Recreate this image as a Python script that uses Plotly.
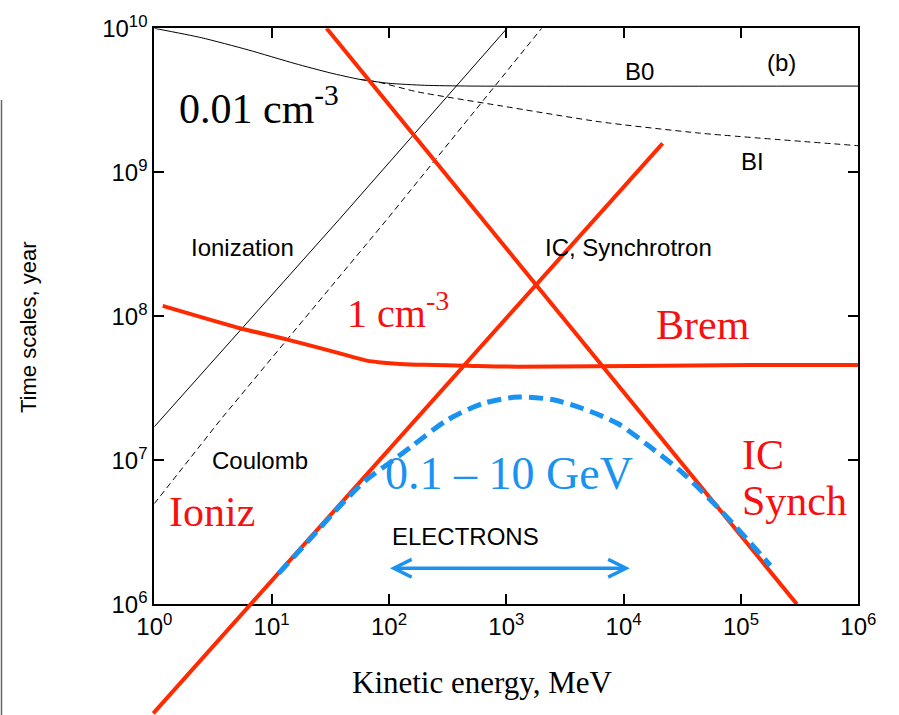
import math
import plotly.graph_objects as go

W, H = 899, 715

# ---------------- data (energies in MeV, times in years) ----------------
b0_energy = [1, 2.51, 6.31, 15.8, 31.6, 56.2, 100, 200, 500, 1e6]
b0_time = [1.0e10, 8.61e9, 7.08e9, 5.69e9, 4.90e9, 4.42e9, 4.15e9, 4.02e9, 3.97e9, 3.97e9]

bi_energy = [56.2, 80, 172, 885, 6310, 44700, 1e6]
bi_time = [4.42e9, 4.24e9, 3.63e9, 2.90e9, 2.24e9, 1.87e9, 1.53e9]

ion_energy = [1, 37.6, 1015]
ion_time = [1.71e7, 4.7e8, 1.0e10]

coul_energy = [1, 3.7, 96, 880, 2000]
coul_time = [5.0e6, 1.93e7, 4.7e8, 4.4e9, 1.0e10]

ic_energy = [29.4, 3.0e5]
ic_time = [1.0e10, 1.0e6]

ioniz1_energy = [0.98, 430, 21500]
ioniz1_time = [1.75e5, 4.47e7, 1.59e9]

brem_energy = [1.18, 5.37, 13.4, 33.6, 64.6, 85, 124, 200, 459, 1230, 119000, 1e6]
brem_time = [1.18e8, 8.26e7, 6.92e7, 5.68e7, 4.92e7, 4.78e7, 4.67e7, 4.6e7, 4.54e7, 4.47e7, 4.59e7, 4.59e7]

total_energy = [11.5, 20, 40, 63, 100, 158, 316, 631, 1260, 2510, 4470, 8900,
                16800, 31600, 63100, 100000, 178000]
total_time = [1.64e6, 2.69e6, 5.01e6, 7.24e6, 9.55e6, 1.26e7, 1.91e7, 2.48e7, 2.75e7,
              2.63e7, 2.29e7, 1.80e7, 1.24e7, 8.22e6, 4.73e6, 3.16e6, 1.86e6]

arrow_energy = [99, 11300]
arrow_time = 1.78e6

x_tickvals = [1, 10, 100, 1e3, 1e4, 1e5, 1e6]
x_ticktext = ["10<sup>0</sup>", "10<sup>1</sup>", "10<sup>2</sup>", "10<sup>3</sup>",
              "10<sup>4</sup>", "10<sup>5</sup>", "10<sup>6</sup>"]
y_tickvals = [1e6, 1e7, 1e8, 1e9, 1e10]
y_ticktext = ["10<sup>6</sup>", "10<sup>7</sup>", "10<sup>8</sup>", "10<sup>9</sup>", "10<sup>10</sup>"]

# ---------------- styles ----------------
RED = "#ff2a00"
RED_TXT = "#f71010"
BLUE = "#1a92f0"
SANS = "Liberation Sans, Arial, Helvetica, sans-serif"
SERIF = "Liberation Serif, Times New Roman, serif"

# plot area in pixels
PL, PR, PT, PB = 154.3, 858.3, 28.3, 604.3
XLOG = (0.0, 6.0)
YLOG = (6.0, 10.0)
xpp = (XLOG[1] - XLOG[0]) / (PR - PL)
ypp = (YLOG[1] - YLOG[0]) / (PB - PT)
# full-figure overlay axes (same scale) for lines that extend beyond frame
X2R = [XLOG[0] - PL * xpp, XLOG[1] + (W - PR) * xpp]
Y2R = [YLOG[0] - (H - PB) * ypp, YLOG[1] + PT * ypp]

fig = go.Figure()

fig.add_trace(go.Scatter(x=b0_energy, y=b0_time, mode="lines", line=dict(color="black", width=1, shape="spline", smoothing=0.6)))
fig.add_trace(go.Scatter(x=bi_energy, y=bi_time, mode="lines", line=dict(color="black", width=1, dash="6px,4px", shape="spline", smoothing=0.6)))
fig.add_trace(go.Scatter(x=ion_energy, y=ion_time, mode="lines", line=dict(color="black", width=1)))
fig.add_trace(go.Scatter(x=coul_energy, y=coul_time, mode="lines", line=dict(color="black", width=1, dash="6px,4px")))
fig.add_trace(go.Scatter(x=ic_energy, y=ic_time, mode="lines", line=dict(color=RED, width=4)))
fig.add_trace(go.Scatter(x=brem_energy, y=brem_time, mode="lines", line=dict(color=RED, width=4, shape="spline", smoothing=0.6)))
fig.add_trace(go.Scatter(x=ioniz1_energy, y=ioniz1_time, mode="lines", line=dict(color=RED, width=4), xaxis="x2", yaxis="y2"))
fig.add_trace(go.Scatter(x=total_energy, y=total_time, mode="lines", line=dict(color=BLUE, width=5, dash="14px,7px", shape="spline", smoothing=0.8), xaxis="x2", yaxis="y2"))

axis_common = dict(type="log", showgrid=False, zeroline=False, showline=True, linewidth=2,
                   linecolor="black", mirror="ticks", ticks="inside", ticklen=10, tickwidth=1.5,
                   tickcolor="black", tickfont=dict(family=SANS, size=24, color="black"))

fig.update_layout(
    width=W, height=H, margin=dict(l=0, r=0, t=0, b=0, pad=0, autoexpand=False),
    paper_bgcolor="white", plot_bgcolor="rgba(0,0,0,0)", showlegend=False,
    xaxis=dict(**axis_common, range=list(XLOG), domain=[PL / W, PR / W],
               tickvals=x_tickvals, ticktext=x_ticktext, anchor="y"),
    yaxis=dict(**axis_common, range=list(YLOG), domain=[1 - PB / H, 1 - PT / H],
               tickvals=y_tickvals, ticktext=y_ticktext, anchor="x"),
    xaxis2=dict(type="log", range=X2R, domain=[0, 1], visible=False, anchor="y2"),
    yaxis2=dict(type="log", range=Y2R, domain=[0, 1], visible=False, anchor="x2"),
)


def P(x, y):
    return x / W, 1 - y / H


annots = []


def txt(text, x, y, size, family, color="black", xanchor="center", angle=0):
    px, py = P(x, y)
    annots.append(dict(text=text, x=px, y=py, xref="paper", yref="paper", showarrow=False,
                       xanchor=xanchor, yanchor="middle", textangle=angle,
                       font=dict(family=family, size=size, color=color)))


txt("(b)", 781, 63, 24, SANS)
txt("B0", 639, 71, 24, SANS)
txt("BI", 752, 161.5, 24, SANS)
txt("Ionization", 242.5, 248, 24, SANS)
txt("IC, Synchrotron", 628, 248, 24, SANS)
txt("Coulomb", 260, 461, 24, SANS)
txt("ELECTRONS", 465, 536, 24, SANS)
txt("0.01 cm<sup>-3</sup>", 176.7, 105, 42, SERIF, xanchor="left")
txt("1 cm<sup>-3</sup>", 345, 310, 40, SERIF, RED_TXT, xanchor="left")
txt("Brem", 703, 325, 42, SERIF, RED_TXT)
txt("IC", 740, 455, 42, SERIF, RED_TXT, xanchor="left")
txt("Synch", 740, 501, 42, SERIF, RED_TXT, xanchor="left")
txt("Ioniz", 166.7, 512, 42, SERIF, RED_TXT, xanchor="left")
txt("0.1 – 10 GeV", 383.3, 474, 46, SERIF, BLUE, xanchor="left")
txt("Kinetic energy, MeV", 482, 682.5, 31, SERIF)
txt("Time scales, year", 28, 327, 22, SANS, angle=-90)

annots.append(dict(x=math.log10(arrow_energy[1]), y=math.log10(arrow_time),
                   ax=math.log10(arrow_energy[0]), ay=math.log10(arrow_time),
                   xref="x", yref="y", axref="x", ayref="y", text="", showarrow=True,
                   arrowhead=5, startarrowhead=5, arrowside="end+start",
                   arrowwidth=3.5, arrowsize=1, startarrowsize=1, arrowcolor=BLUE,
                   standoff=0, startstandoff=0))

fig.update_layout(annotations=annots)

fig.add_shape(type="line", xref="paper", yref="paper", x0=1.5 / W, x1=1.5 / W,
              y0=0, y1=1 - 100 / H, line=dict(color="#666666", width=1.5))

fig.write_html("out.html")
